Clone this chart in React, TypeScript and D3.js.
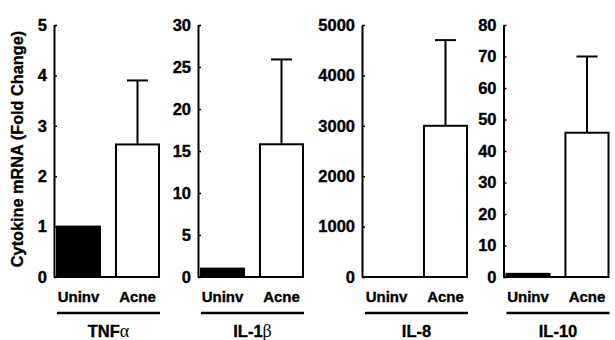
import React, { useRef, useEffect } from "react";
import * as d3 from "d3";

// Cytokine mRNA fold change, uninvolved skin vs acne lesions
const cytokineLabels = ["TNFα", "IL-1β", "IL-8", "IL-10"];
const groups = ["Uninv", "Acne"];
const uninvValues = [1, 1, 1, 1];
const acneValues = [2.63, 15.8, 3000, 45.8];
const acneErrors = [1.27, 10.1, 1700, 24.2];
const yMaxes = [5, 30, 5000, 80];
const yTickSteps = [1, 5, 1000, 10];
const yTitle = "Cytokine mRNA (Fold Change)";

const WIDTH = 615;
const HEIGHT = 340;
const FONT = "'Liberation Sans', Arial, Helvetica, sans-serif";

export default function App() {
  const svgRef = useRef<SVGSVGElement>(null);

  useEffect(() => {
    document.body.style.margin = "0";
    if (!svgRef.current) return;

    const svg = d3.select(svgRef.current);
    svg.selectAll("*").remove();

    const top = 25;
    const baseY = 277;
    const panelWidth = 105;
    // left edge (y axis) of each small panel
    const panelX = [54, 198, 362, 503.5];

    const y = d3.scaleLinear().range([baseY, top]);

    // heavy bold look like the original figure
    const boldText = (sel: d3.Selection<any, any, any, any>, size: number) =>
      sel
        .style("font-family", FONT)
        .style("font-weight", "bold")
        .style("font-size", `${size}px`)
        .attr("fill", "#000")
        .attr("stroke", "#000")
        .attr("stroke-width", 0.35);

    cytokineLabels.forEach((label, i) => {
      const ax = panelX[i];
      const g = svg.append("g").attr("transform", `translate(${ax},0)`);
      y.domain([0, yMaxes[i]]);

      const x = d3.scaleBand<string>()
        .domain(groups)
        .range([3, panelWidth])
        .paddingInner(0.27)
        .paddingOuter(0);

      // bars
      const vals = [uninvValues[i], acneValues[i]];
      groups.forEach((grp, j) => {
        const h = baseY - y(vals[j]);
        g.append("rect")
          .attr("x", x(grp)!)
          .attr("y", y(vals[j]))
          .attr("width", x.bandwidth())
          .attr("height", Math.max(h, 0))
          .attr("fill", j === 0 ? "#000" : "#fff")
          .attr("stroke", "#000")
          .attr("stroke-width", h > 0.5 ? 2 : 0);
      });

      // error bar on Acne
      const cx = x("Acne")! + x.bandwidth() / 2;
      const errTop = y(acneValues[i] + acneErrors[i]);
      g.append("line")
        .attr("x1", cx).attr("x2", cx)
        .attr("y1", y(acneValues[i])).attr("y2", errTop)
        .attr("stroke", "#000").attr("stroke-width", 2);
      g.append("line")
        .attr("x1", cx - 10.5).attr("x2", cx + 10.5)
        .attr("y1", errTop).attr("y2", errTop)
        .attr("stroke", "#000").attr("stroke-width", 2);

      // baseline
      g.append("line")
        .attr("x1", 0).attr("x2", panelWidth)
        .attr("y1", baseY).attr("y2", baseY)
        .attr("stroke", "#000").attr("stroke-width", 2);

      // y axis
      const ticks = d3.range(0, yMaxes[i] + yTickSteps[i] / 2, yTickSteps[i]);
      const yAxis = d3.axisLeft(y)
        .tickValues(ticks)
        .tickFormat(d => `${d}`)
        .tickSize(-3)
        .tickSizeOuter(0)
        .tickPadding(7);
      const axG = g.append("g").call(yAxis);
      axG.select(".domain").attr("stroke", "#000").attr("stroke-width", 2);
      axG.selectAll(".tick line").attr("stroke", "#000").attr("stroke-width", 1.5);
      boldText(axG.selectAll("text"), 16.5);

      // category labels
      groups.forEach(grp => {
        boldText(
          g.append("text")
            .attr("x", x(grp)! + x.bandwidth() / 2)
            .attr("y", 302)
            .attr("text-anchor", "middle"),
          15
        ).text(grp);
      });

      // group underline and cytokine name
      g.append("line")
        .attr("x1", 3).attr("x2", panelWidth + 1)
        .attr("y1", 313).attr("y2", 313)
        .attr("stroke", "#000").attr("stroke-width", 2.5);

      const m = label.match(/^(.*?)([\u0370-\u03FF]?)$/)!;
      const t = boldText(
        g.append("text")
          .attr("x", (panelWidth + 4) / 2)
          .attr("y", 337)
          .attr("text-anchor", "middle"),
        16.5
      );
      t.append("tspan").text(m[1]);
      if (m[2]) {
        t.append("tspan")
          .style("font-family", "'Liberation Serif', 'DejaVu Serif', serif")
          .style("font-weight", "normal")
          .style("font-size", "18px")
          .attr("stroke-width", 0)
          .text(m[2]);
      }
    });

    // y axis title
    boldText(
      svg.append("text")
        .attr("transform", `translate(23,${(top + baseY) / 2 - 2}) rotate(-90)`)
        .attr("text-anchor", "middle"),
      16.3
    ).text(yTitle);
  }, []);

  return (
    <svg
      ref={svgRef}
      width={WIDTH}
      height={HEIGHT}
      viewBox={`0 0 ${WIDTH} ${HEIGHT}`}
      style={{ display: "block", background: "#fff" }}
    />
  );
}
